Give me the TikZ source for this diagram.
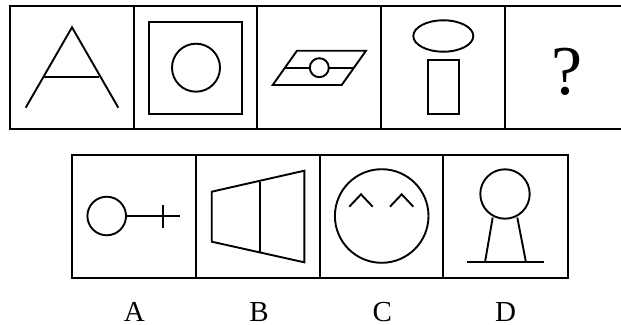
\documentclass[tikz,border=0pt]{standalone}
\usepackage{fontspec}
\setmainfont{Liberation Serif}
\begin{document}
\begin{tikzpicture}[x=1pt,y=-1pt,
  frame/.style={line width=2.1pt},
  fig/.style={line width=1.9pt, line join=miter},
  qmark/.style={font=\fontsize{70}{70}\selectfont, inner sep=0pt, anchor=base},
  optlabel/.style={font=\fontsize{29}{29}\selectfont, inner sep=0pt, anchor=base}]
\useasboundingbox (0,0) rectangle (621,324);
% top row frame
\draw[frame] (625,6) -- (10,6) -- (10,129) -- (625,129);
\foreach \x in {134,257,381,505} \draw[frame] (\x,6) -- (\x,129);
% cell 1: A shape
\draw[fig] (25.7,107.7) -- (72,27.3) -- (118.3,107.7);
\draw[fig] (44.3,77) -- (99.3,77);
% cell 2: square with circle
\draw[fig] (149.3,21.7) rectangle (242.3,114);
\draw[fig] (196,67.7) circle [radius=24pt];
% cell 3: parallelogram with line and circle
\draw[fig] (297,50.7) -- (366,50.7) -- (341.7,85) -- (272.7,85) -- cycle;
\draw[fig] (285,67.7) -- (309.8,67.7);
\draw[fig] (328.8,67.7) -- (354,67.7);
\draw[fig] (319.3,67.7) circle [radius=9.5pt];
% cell 4: ellipse and rectangle
\draw[fig] (443.3,36) ellipse [x radius=30pt, y radius=15.7pt];
\draw[fig] (427.7,60) rectangle (458.7,114.3);
% cell 5: question mark
\node[qmark] (q) at (567.5,94) {?};
% bottom row frame
\draw[frame] (72,155) rectangle (567.7,278.3);
\foreach \x in {196,320,443.3} \draw[frame] (\x,155) -- (\x,278.3);
% option A
\draw[fig] (106.7,216) circle [radius=19.3pt];
\draw[fig] (126,216) -- (180,216);
\draw[fig] (163.3,205) -- (163.3,228.3);
% option B
\draw[fig] (211.7,191.7) -- (304.3,170.7) -- (304.3,262.3) -- (211.7,241.7) -- cycle;
\draw[fig] (260,181.7) -- (260,252.3);
% option C
\draw[fig] (381.7,216) circle [radius=46.8pt];
\draw[fig] (349.3,206.7) -- (361,194.3) -- (372.7,206.7);
\draw[fig] (390,206.7) -- (401.7,194.3) -- (413.3,206.7);
% option D
\draw[fig] (505,194) circle [radius=24.7pt];
\draw[fig] (492.7,217.5) -- (485,262.3);
\draw[fig] (517.3,217.5) -- (526,262.3);
\draw[fig] (466.7,262.3) -- (544,262.3);
% labels
\node[optlabel] (la) at (134.3,321.5) {A};
\node[optlabel] (lb) at (259,321.5) {B};
\node[optlabel] (lc) at (382.3,321.5) {C};
\node[optlabel] (ld) at (505.7,321.5) {D};
\end{tikzpicture}
\end{document}
